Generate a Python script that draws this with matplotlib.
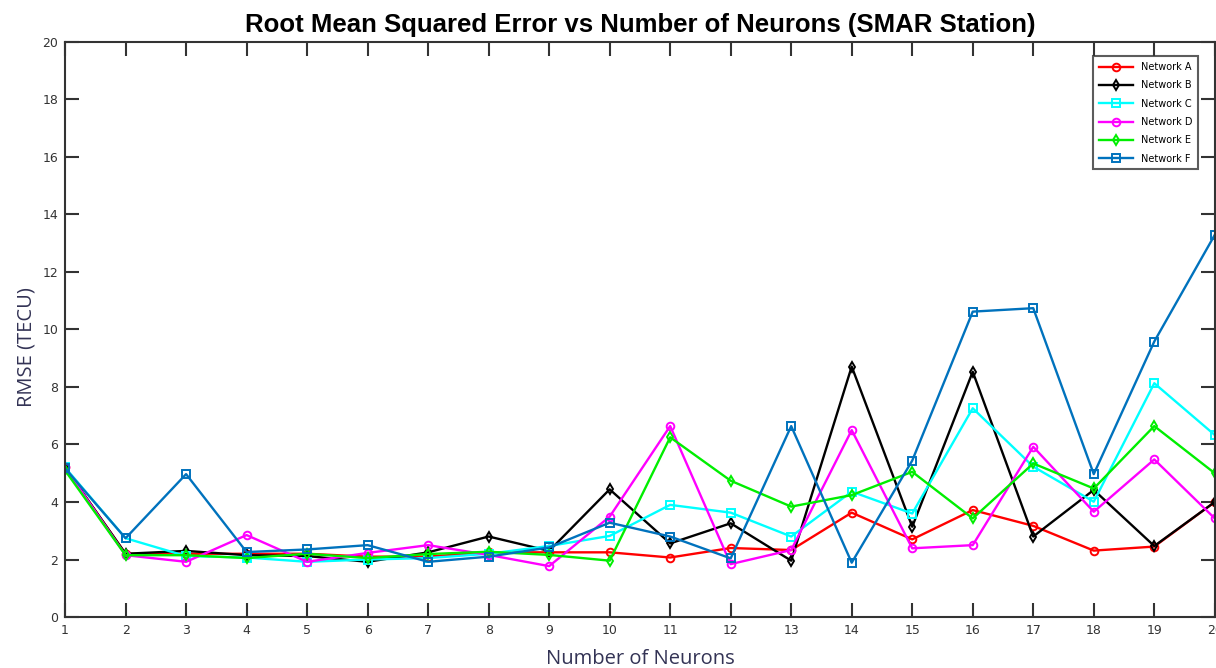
import matplotlib
matplotlib.use("Agg")
import matplotlib.pyplot as plt

neurons = list(range(1, 21))

net_a = [5.2, 2.2, 2.2, 2.2, 2.2, 2.1, 2.1, 2.25, 2.25, 2.25, 2.07, 2.4, 2.33, 3.63, 2.7, 3.72, 3.17, 2.31, 2.45, 4.0]
net_b = [5.2, 2.2, 2.3, 2.15, 2.12, 1.92, 2.25, 2.8, 2.3, 4.44, 2.56, 3.26, 1.96, 8.71, 3.14, 8.53, 2.8, 4.42, 2.47, 4.0]
net_c = [5.2, 2.74, 2.12, 2.07, 1.92, 2.0, 2.05, 2.2, 2.47, 2.82, 3.9, 3.63, 2.8, 4.36, 3.6, 7.26, 5.23, 4.01, 8.13, 6.33]
net_d = [5.2, 2.15, 1.92, 2.85, 1.92, 2.23, 2.5, 2.16, 1.77, 3.49, 6.64, 1.84, 2.33, 6.5, 2.39, 2.5, 5.92, 3.66, 5.48, 3.43]
net_e = [5.1, 2.15, 2.15, 2.05, 2.2, 2.05, 2.19, 2.27, 2.16, 1.96, 6.25, 4.74, 3.84, 4.24, 5.05, 3.43, 5.34, 4.47, 6.64, 5.0]
net_f = [5.17, 2.74, 4.97, 2.26, 2.35, 2.5, 1.92, 2.1, 2.42, 3.28, 2.8, 2.04, 6.64, 1.89, 5.44, 10.62, 10.74, 4.97, 9.58, 13.29]

series = [
    ("Network A", net_a, "#ff0000", "o"),
    ("Network B", net_b, "#000000", "d"),
    ("Network C", net_c, "#00ffff", "s"),
    ("Network D", net_d, "#ff00ff", "o"),
    ("Network E", net_e, "#00ee00", "d"),
    ("Network F", net_f, "#0072BD", "s"),
]

fig = plt.figure(figsize=(12.16, 6.68), dpi=100)
ax = fig.add_axes([0.0535, 0.0763, 0.9455, 0.861])

for name, vals, color, mk in series:
    ax.plot(neurons, vals, color=color, marker=mk, markersize=5.5,
            markerfacecolor="none", markeredgewidth=1.4, linewidth=1.7, label=name)

ax.set_xlim(1, 20)
ax.set_ylim(0, 20)
ax.set_xticks(neurons)
ax.set_yticks(range(0, 21, 2))
ax.tick_params(direction="in", length=10, width=1.5, labelsize=9,
               colors="#333333", top=True, right=True, pad=5)
for sp in ax.spines.values():
    sp.set_linewidth(1.5)
    sp.set_color("#333333")

ax.set_title("Root Mean Squared Error vs Number of Neurons (SMAR Station)",
             fontsize=18.5, fontweight="bold",
             family=["Liberation Sans Narrow", "Liberation Sans"], pad=7)
ax.set_xlabel("Number of Neurons", fontsize=14.5, color="#333355",
              family="Open Sans", labelpad=9)
ax.set_ylabel("RMSE (TECU)", fontsize=14.5, color="#333355", family="Open Sans")
ax.yaxis.set_label_coords(-0.025, 0.47)

leg = ax.legend(loc="upper right", fontsize=7, frameon=True, fancybox=False,
                edgecolor="#333333", borderaxespad=0.9, handlelength=3.5,
                labelspacing=0.85, borderpad=0.6,
                bbox_to_anchor=(0.993, 0.99))
leg.get_frame().set_linewidth(1.5)

fig.savefig("out.png", dpi=100)
